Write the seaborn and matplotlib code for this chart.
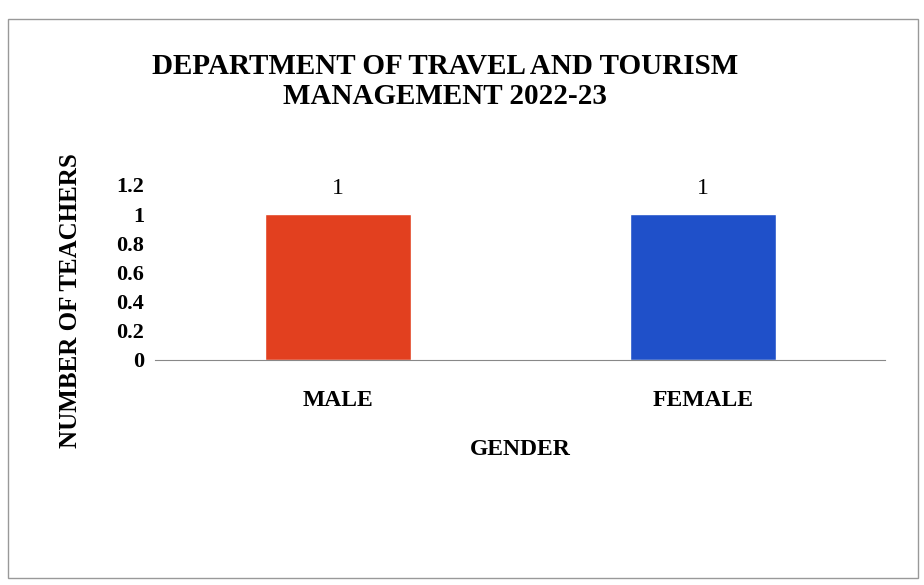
import matplotlib
matplotlib.use("Agg")
import matplotlib.pyplot as plt
import seaborn as sns
import pandas as pd
from matplotlib.patches import Rectangle

genders = ["MALE", "FEMALE"]
teachers = [1, 1]
bar_colors = ["#E2401F", "#1F50C9"]
y_ticks = [0, 0.2, 0.4, 0.6, 0.8, 1, 1.2]

sns.set_style("white")
plt.rcParams["font.family"] = ["Liberation Serif", "DejaVu Serif"]
plt.rcParams["text.color"] = "black"
plt.rcParams["axes.labelcolor"] = "black"
plt.rcParams["xtick.color"] = "black"
plt.rcParams["ytick.color"] = "black"

df = pd.DataFrame({"gender": genders, "teachers": teachers})

fig = plt.figure(figsize=(9.24, 5.85), dpi=100)
ax = fig.add_axes([0.168, 0.385, 0.79, 0.299])

sns.barplot(data=df, x="gender", y="teachers", hue="gender",
            palette=bar_colors, width=0.4, legend=False, ax=ax, saturation=1)

ax.set_xlim(-0.5, 1.5)
ax.set_ylim(0, 1.2)
ax.set_yticks(y_ticks)
ax.set_yticklabels([f"{t:g}" for t in y_ticks], fontsize=16, fontweight="bold")
ax.tick_params(axis="x", length=0, pad=22, labelsize=17)
ax.tick_params(axis="y", length=0, pad=8)
for lbl in ax.get_xticklabels():
    lbl.set_fontweight("bold")

sns.despine(ax=ax, left=True, top=True, right=True)
ax.spines["bottom"].set_color("#888888")
ax.spines["bottom"].set_linewidth(0.8)

for p, v in zip(ax.patches, teachers):
    ax.text(p.get_x() + p.get_width() / 2, v + 0.1, f"{v}",
            ha="center", va="bottom", fontsize=17)

ax.set_xlabel("GENDER", fontsize=17, fontweight="bold", labelpad=20)
ax.set_ylabel("NUMBER OF TEACHERS", fontsize=18, fontweight="bold")
ax.yaxis.set_label_coords(-0.1, 0.34)

fig.text(0.482, 0.86, "DEPARTMENT OF TRAVEL AND TOURISM\nMANAGEMENT 2022-23",
         ha="center", va="center", fontsize=21, fontweight="bold", linespacing=1.15)

fig.patches.append(Rectangle((0.009, 0.012), 0.985, 0.955, transform=fig.transFigure,
                             fill=False, edgecolor="#999999", linewidth=1))

fig.savefig("out.png", dpi=100)
